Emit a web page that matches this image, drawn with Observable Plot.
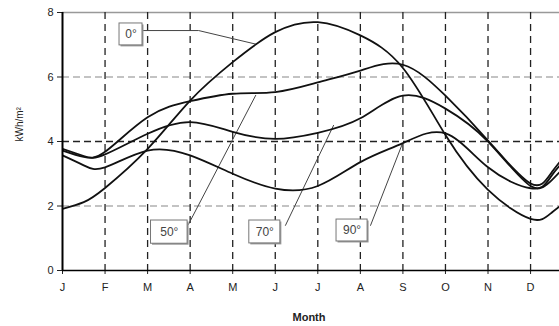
<!DOCTYPE html>
<html>
<head>
<meta charset="utf-8">
<script src="https://cdn.jsdelivr.net/npm/d3@7"></script>
<script src="https://cdn.jsdelivr.net/npm/@observablehq/plot@0.6"></script>
<style>
  html, body { margin: 0; padding: 0; background: #fff; overflow: hidden; }
</style>
</head>
<body>
<div id="chart"></div>
<script>
// Month tick labels and positions (month index)
const monthLabels = ["J","F","M","A","M","J","J","A","S","O","N","D"];
const monthTicks = [0,1,2,3,4,5,6,7,8,9,10,11];
const yTicks = [0,2,4,6,8];

// Sample positions (month index) where values were read
const samplePos = [0, 0.5, 1, 2, 3, 4, 5, 6, 7, 8, 9, 10, 11, 11.5, 12];

// kWh/m² per day
const tilt0  = [1.91, 2.12, 2.56, 3.77, 5.27, 6.46, 7.39, 7.70, 7.29, 6.28, 4.20, 2.50, 1.60, 1.80, 2.30];
const tilt50 = [3.77, 3.55, 3.68, 4.75, 5.25, 5.48, 5.53, 5.83, 6.20, 6.38, 5.42, 4.03, 2.70, 3.05, 3.85];
const tilt70 = [3.72, 3.52, 3.60, 4.24, 4.60, 4.30, 4.08, 4.27, 4.72, 5.42, 5.02, 4.00, 2.62, 2.95, 3.70];
const tilt90 = [3.57, 3.26, 3.20, 3.72, 3.57, 3.00, 2.54, 2.62, 3.36, 3.95, 4.25, 3.20, 2.55, 2.80, 3.50];

const seriesNames = ["0°", "50°", "70°", "90°"];
const seriesValues = [tilt0, tilt50, tilt70, tilt90];

const rows = [];
seriesNames.forEach((name, s) => {
  samplePos.forEach((t, i) => rows.push({tilt: name, t, v: seriesValues[s][i]}));
});

// Annotation boxes (data coordinates) and leader lines
const boxes = [
  {label: "0°",  x1: 1.34, x2: 1.88, y1: 6.98, y2: 7.66},
  {label: "50°", x1: 2.08, x2: 2.94, y1: 0.83, y2: 1.55},
  {label: "70°", x1: 4.39, x2: 5.12, y1: 0.84, y2: 1.55},
  {label: "90°", x1: 6.44, x2: 7.17, y1: 0.90, y2: 1.58}
];
const leaders = [
  {label: "0°",  t: 1.88, v: 7.44}, {label: "0°",  t: 3.20, v: 7.44}, {label: "0°", t: 4.54, v: 7.02},
  {label: "50°", t: 2.96, v: 1.43}, {label: "50°", t: 4.54, v: 5.43},
  {label: "70°", t: 5.24, v: 1.40}, {label: "70°", t: 6.37, v: 4.50},
  {label: "90°", t: 7.24, v: 1.40}, {label: "90°", t: 7.99, v: 3.94}
];

const chart = Plot.plot({
  width: 559,
  height: 326,
  marginLeft: 62,
  marginRight: 0,
  marginTop: 12,
  marginBottom: 56,
  x: {domain: [0, 11.68]},
  y: {domain: [0, 8]},
  style: {fontFamily: "'Liberation Sans', Arial, sans-serif", fontSize: "11px", color: "#222", background: "#fff"},
  marks: [
    Plot.ruleY([2, 6], {stroke: "#888", strokeDasharray: "7,4", strokeWidth: 1.2}),
    Plot.ruleY([4], {stroke: "#222", strokeDasharray: "7,4", strokeWidth: 1.3}),
    Plot.ruleY([8], {stroke: "#999", strokeWidth: 1.5}),
    Plot.ruleX(monthTicks.slice(1), {stroke: "#222", strokeDasharray: "7,5", strokeWidth: 1.3}),
    Plot.line(leaders, {x: "t", y: "v", z: "label", stroke: "#444", strokeWidth: 1}),
    Plot.line(rows, {x: "t", y: "v", z: "tilt", curve: "natural", stroke: "#111", strokeWidth: 1.8, clip: true}),
    Plot.rect(boxes, {x1: "x1", x2: "x2", y1: "y1", y2: "y2", fill: "#999", dx: 1.5, dy: 1.5}),
    Plot.rect(boxes, {x1: "x1", x2: "x2", y1: "y1", y2: "y2", fill: "#fff", stroke: "#777", strokeWidth: 1}),
    Plot.text(boxes, {x: d => (d.x1 + d.x2) / 2, y: d => (d.y1 + d.y2) / 2, text: "label", fontSize: 12, fill: "#444"}),
    Plot.axisX(monthTicks, {tickFormat: i => monthLabels[i], tickSize: 4, tickPadding: 9, label: null}),
    Plot.axisY(yTicks, {tickSize: 5, tickPadding: 4, label: null}),
    Plot.ruleX([0], {stroke: "#000", strokeWidth: 2}),
    Plot.ruleY([0], {stroke: "#000", strokeWidth: 1.5}),
    Plot.text(["Month"], {frameAnchor: "bottom", dy: 50, dx: -2, fontWeight: "bold", fontSize: 11}),
    Plot.text(["kWh/m²"], {frameAnchor: "left", dx: -43, rotate: -90, fontSize: 10})
  ]
});
document.getElementById("chart").appendChild(chart);
</script>
</body>
</html>
